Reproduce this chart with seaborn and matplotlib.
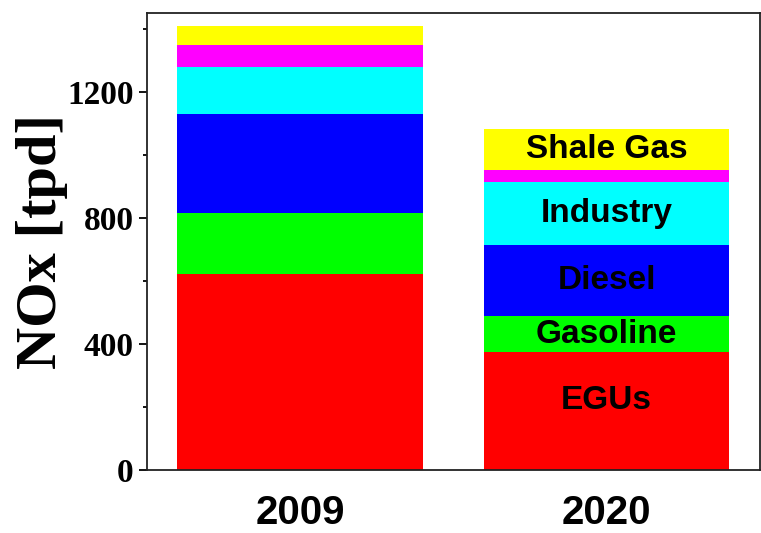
import numpy as np
import pandas as pd
import matplotlib
matplotlib.use("Agg")
import matplotlib.pyplot as plt
import seaborn as sns
from matplotlib.ticker import MultipleLocator

# data (tpd)
years = ["2009", "2020"]
sources = ["EGUs", "Gasoline", "Diesel", "Industry", "Other", "Shale Gas"]
egus = [623, 374]
gasoline = [193, 114]
diesel = [315, 226]
industry = [148, 200]
other = [70, 37]
shale_gas = [61, 133]
colors = ["#FF0000", "#00FF00", "#0000FF", "#00FFFF", "#FF00FF", "#FFFF00"]
# only the 2020 bar carries text labels, the magenta piece has none
labels_2020 = ["EGUs", "Gasoline", "Diesel", "Industry", "", "Shale Gas"]

sns.set_style("ticks")
plt.rcParams['font.family'] = ['Liberation Sans', 'DejaVu Sans']
plt.rcParams['text.color'] = 'black'
plt.rcParams['axes.labelcolor'] = 'black'
plt.rcParams['xtick.color'] = 'black'
plt.rcParams['ytick.color'] = 'black'

vals = np.array([egus, gasoline, diesel, industry, other, shale_gas])
cum = np.cumsum(vals, axis=0)

fig = plt.figure(figsize=(7.61, 5.33), dpi=100)
ax = fig.add_axes([0.1928, 0.1182, 0.8059, 0.8568])

# stacked bars: draw cumulative totals from the top down so each one covers the next
for i in range(len(sources) - 1, -1, -1):
    df = pd.DataFrame({"year": years, "total": cum[i]})
    sns.barplot(data=df, x="year", y="total", color=colors[i], width=0.8,
                saturation=1, linewidth=0, ax=ax)

# labels inside the 2020 bar, at the middle of each segment
for i, lab in enumerate(labels_2020):
    if lab == "":
        continue
    bottom = cum[i][1] - vals[i][1]
    mid = bottom + vals[i][1] / 2
    if lab == "EGUs":
        mid = mid + 35
    ax.text(1, mid, lab, ha="center", va="center", fontsize=24,
            fontweight="bold", color="black")

ax.set_xlim(-0.5, 1.5)
ax.set_ylim(0, 1450)
ax.yaxis.set_major_locator(MultipleLocator(400))
ax.yaxis.set_minor_locator(MultipleLocator(200))
ax.tick_params(axis="y", which="major", length=5.5, width=1.3, direction="out", pad=4)
ax.tick_params(axis="y", which="minor", length=3, width=1.3, direction="out")
ax.tick_params(axis="x", length=0, pad=17)
for t in ax.get_yticklabels():
    t.set_fontfamily("Liberation Serif")
    t.set_fontweight("bold")
    t.set_fontsize(24)
for t in ax.get_xticklabels():
    t.set_fontweight("bold")
    t.set_fontsize(29)

for s in ax.spines.values():
    s.set_visible(True)
    s.set_linewidth(1.3)
    s.set_color("#222222")

ax.set_xlabel("")
ax.set_ylabel("NOx [tpd]", fontfamily="Liberation Serif", fontweight="bold",
              fontsize=42, labelpad=-1)

fig.savefig("out.png", dpi=100)
